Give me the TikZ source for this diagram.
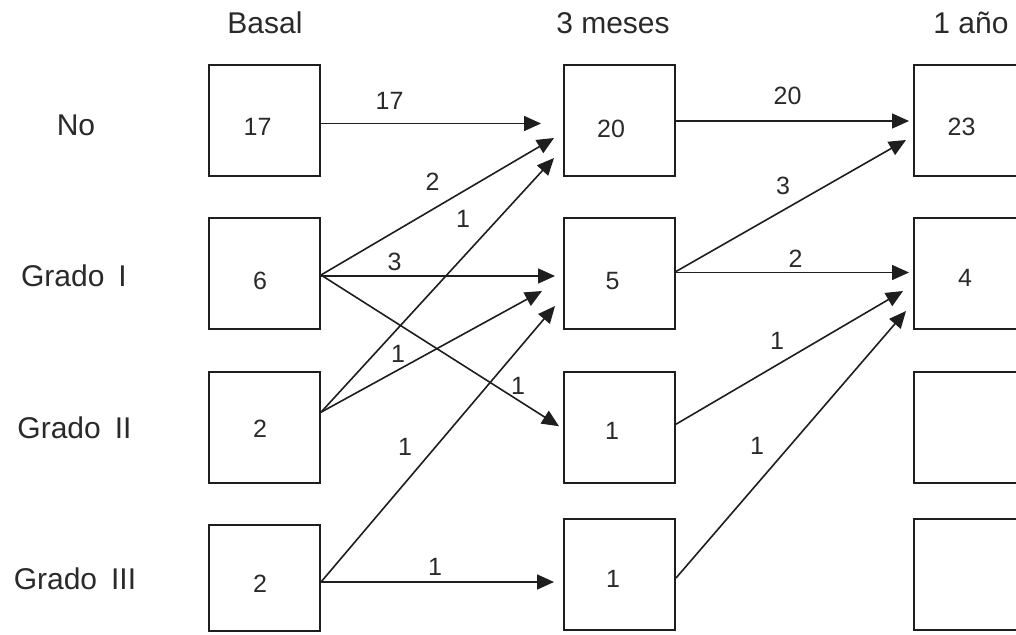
\documentclass[tikz,border=0pt]{standalone}
\usepackage{fontspec}
\setmainfont{Liberation Sans}
\usetikzlibrary{arrows.meta,calc}
\definecolor{ink}{HTML}{1E1E1E}
\definecolor{txt}{HTML}{2A2A2A}
\newcommand{\gap}{\hspace{14pt}}

\begin{document}
\begin{tikzpicture}[x=1pt,y=-1pt,
  box/.style={draw=ink,line width=2pt,minimum width=111pt,minimum height=111pt,inner sep=0pt},
  head/.style={font=\fontsize{30}{36}\selectfont,text=txt,inner sep=0pt},
  num/.style={font=\fontsize{25}{30}\selectfont,text=txt,inner sep=0pt},
  flow/.style={draw=ink,line width=1.6pt,-{Triangle[length=17pt,width=15pt]}}]

% page
\fill[white] (0,0) rectangle (1016,634);
\useasboundingbox (0,0) rectangle (1016,634);

% column headings
\node[head] (hbasal) at (265,23) {Basal};
\node[head] (hmeses) at (613,23) {3 meses};
\node[head] (hanio)  at (971,23) {1 año};

% row headings
\node[head] (rno)   at (76,125.5) {No};
\node[head] (rg1)   at (74,276)   {Grado\gap I};
\node[head] (rg2)   at (74.5,427.5) {Grado\gap II};
\node[head] (rg3)   at (75,579)   {Grado\gap III};

% baseline column
\node[box,label={[num,xshift=-7pt,yshift=-6.5pt]center:17}] (a1) at (264.5,120.5) {};
\node[box,label={[num,xshift=-4.5pt,yshift=-7.5pt]center:6}] (a2) at (264.5,273.5) {};
\node[box,label={[num,xshift=-4.5pt,yshift=-2pt]center:2}]   (a3) at (264.5,427.2) {};
\node[box,minimum height=106pt,label={[num,xshift=-4.5pt,yshift=-6pt]center:2}] (a4) at (264.5,578) {};

% three-month column
\node[box,label={[num,xshift=-8.5pt,yshift=-8.5pt]center:20}] (b1) at (619.5,120.5) {};
\node[box,label={[num,xshift=-7pt,yshift=-7.5pt]center:5}]    (b2) at (619.5,273.5) {};
\node[box,label={[num,xshift=-7.5pt,yshift=-4pt]center:1}]    (b3) at (619.5,427.2) {};
\node[box,label={[num,xshift=-6.5pt,yshift=-4.5pt]center:1}]  (b4) at (619.5,574.5) {};

% one-year column
\node[box,label={[num,xshift=-8pt,yshift=-6.5pt]center:23}] (c1) at (969.5,120.5) {};
\node[box,label={[num,xshift=-4.5pt,yshift=-4.5pt]center:4}] (c2) at (969.5,273.5) {};
\node[box] (c3) at (969.5,427.2) {};
\node[box] (c4) at (969.5,574.5) {};

% transitions: baseline -> 3 months
\draw[flow] ($(a1.east)+(0,3)$)   -- ($(b1.west)+(-22,3)$);
\draw[flow] ($(a2.east)+(0,1.5)$) -- ($(b1.west)+(-9,17.5)$);
\draw[flow] ($(a3.east)+(0,-15)$) -- ($(b1.west)+(-9,37.5)$);
\draw[flow] ($(a2.east)+(0,2.5)$) -- ($(b2.west)+(-8,2.5)$);
\draw[flow] ($(a3.east)+(0,-15)$) -- ($(b2.west)+(-21,17.5)$);
\draw[flow] ($(a4.east)+(0,4)$)   -- ($(b2.west)+(-8,32.5)$);
\draw[flow] ($(a2.east)+(0,1.5)$) -- ($(b3.west)+(-4,-1)$);
\draw[flow] ($(a4.east)+(0,4)$)   -- ($(b4.west)+(-9,7.5)$);

% transitions: 3 months -> 1 year
\draw[flow] ($(b1.east)+(0,0.5)$) -- ($(c1.west)+(-4,0.5)$);
\draw[flow] ($(b2.east)+(0,-2)$)  -- ($(c1.west)+(-7,19.5)$);
\draw[flow] ($(b2.east)+(0,-1)$)  -- ($(c2.west)+(-4,-1)$);
\draw[flow] ($(b3.east)+(0,-3)$)  -- ($(c2.west)+(-10,17.5)$);
\draw[flow] ($(b4.east)+(0,3.5)$) -- ($(c2.west)+(-7,37.5)$);

% flow counts
\node[num] (n17)  at (389.5,101) {17};
\node[num] (n2a)  at (432.5,182) {2};
\node[num] (n1a)  at (463,218.5) {1};
\node[num] (n3a)  at (394.5,262) {3};
\node[num] (n1b)  at (398,354)   {1};
\node[num] (n1c)  at (518,386)   {1};
\node[num] (n1d)  at (405,447)   {1};
\node[num] (n1e)  at (435,566.5) {1};
\node[num] (n20)  at (787.5,96)  {20};
\node[num] (n3b)  at (783,186)   {3};
\node[num] (n2b)  at (795.5,259) {2};
\node[num] (n1f)  at (777,341)   {1};
\node[num] (n1g)  at (757,446)   {1};
\end{tikzpicture}
\end{document}
